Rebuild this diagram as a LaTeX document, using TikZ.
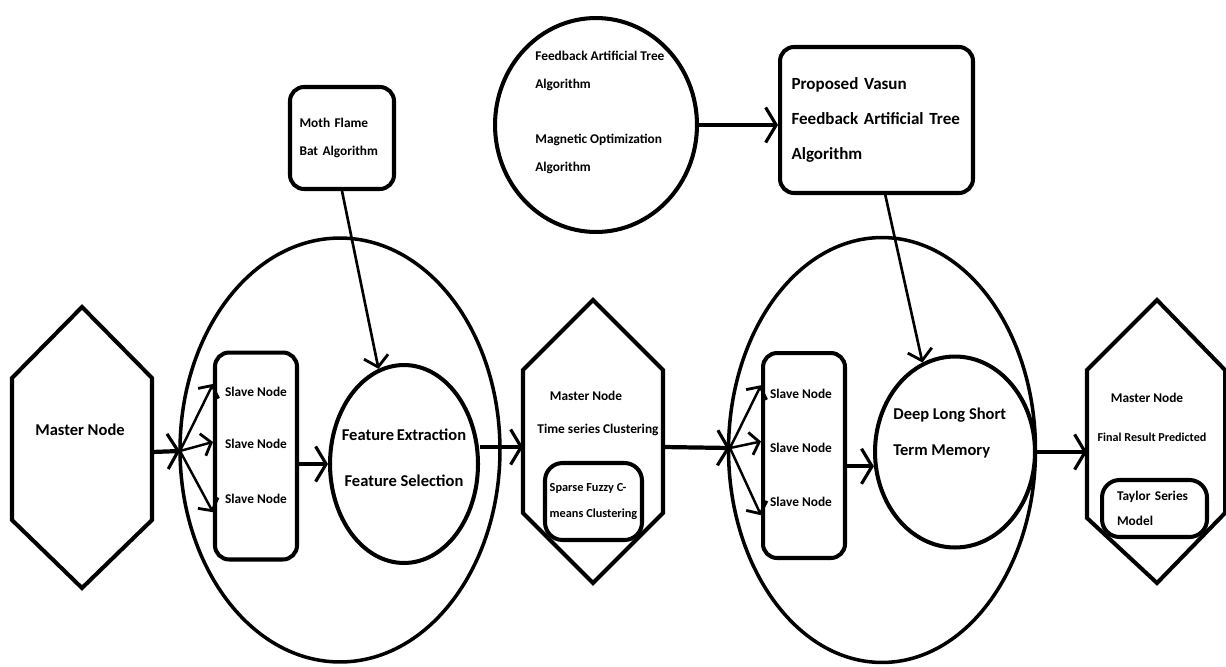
\documentclass[tikz,border=0pt]{standalone}
\usepackage{fontspec}
\setmainfont{Carlito}
\usetikzlibrary{shapes.geometric, arrows.meta}

\tikzset{
  hexline/.style={line width=2.3pt, line join=miter},
  zone/.style={draw, ellipse, line width=2pt, inner sep=0pt},
  rbox/.style={draw, rounded corners=8pt, line width=2.3pt, inner sep=0pt, align=left},
  lbl/.style={inner sep=0pt, align=left},
  txtbig/.style={font=\bfseries\fontsize{9.4pt}{26pt}\selectfont},
  txtmid/.style={font=\bfseries\fontsize{9.7pt}{19.8pt}\selectfont},
  txtsmall/.style={font=\bfseries\fontsize{7.6pt}{15.5pt}\selectfont},
  flow/.style={line width=2.4pt, -{Straight Barb[length=6pt,width=20pt,line width=1.8pt]}},
  fanarrow/.style={line width=1.4pt, -{Straight Barb[length=5pt,width=13pt,line width=1.6pt]}},
  feed/.style={line width=1.5pt, -{Straight Barb[length=6pt,width=14pt,line width=1.6pt]}},
}

\begin{document}
\begin{tikzpicture}[x=0.02cm, y=-0.02cm]
    \useasboundingbox (0,0) rectangle (1226,666);
    \fill[white] (0,0) rectangle (1226,666);

    % large zones
    \node[zone, minimum width=6.4cm, minimum height=8.48cm] (zoneA) at (340,450) {};
    \node[zone, minimum width=6.14cm, minimum height=8.5cm] (zoneB) at (882,450) {};

    % master node 1
    \draw[hexline] (82,307) -- (152,378) -- (152,520) -- (82,588) -- (12,520) -- (12,378) -- cycle;
    \node[lbl, txtbig] (m1) at (80,430) {Master Node};
    \coordinate (m1e) at (152,452);
    \coordinate (fanA) at (180,451);

    % slave nodes 1
    \node[rbox, minimum width=1.64cm, minimum height=4.14cm] (sl1) at (256,456) {};
    \node[lbl, txtsmall] (s1a) at (256,392) {Slave Node};
    \node[lbl, txtsmall] (s1b) at (256,444) {Slave Node};
    \node[lbl, txtsmall] (s1c) at (256,499) {Slave Node};

    % feature extraction / selection
    \node[zone, line width=2.3pt, minimum width=2.96cm, minimum height=3.96cm] (fe) at (404,464) {};
    \node[lbl, txtbig, align=center] (fetxt) at (404,458) {Feature\hspace{1.5pt}Extraction\\Feature Selection};

    % moth flame bat
    \node[rbox, minimum width=2.08cm, minimum height=2.04cm, text width=1.7cm, txtsmall] (moth) at (342,138) {Moth Flame\\Bat Algorithm};

    % master node 2
    \draw[hexline] (593,300) -- (663,370) -- (663,513) -- (593,583) -- (523,513) -- (523,370) -- cycle;
    \node[lbl, txtsmall] (m2) at (586,396) {Master Node};
    \node[lbl, txtsmall] (m2t) at (598,430) {Time series Clustering};
    \node[rbox, rounded corners=10pt, minimum width=1.94cm, minimum height=1.54cm, font=\bfseries\fontsize{7pt}{14.5pt}\selectfont] (sfcm) at (593.5,501.5) {Sparse Fuzzy C-\\means Clustering};
    \coordinate (m2w) at (523,447);
    \coordinate (m2e) at (663,447);
    \coordinate (fanB) at (730,448);

    % slave nodes 2
    \node[rbox, minimum width=1.64cm, minimum height=4.1cm] (sl2) at (804,455.5) {};
    \node[lbl, txtsmall] (s2a) at (801,394) {Slave Node};
    \node[lbl, txtsmall] (s2b) at (801,448) {Slave Node};
    \node[lbl, txtsmall] (s2c) at (801,502) {Slave Node};

    % deep lstm
    \node[zone, line width=2.3pt, minimum width=3.2cm, minimum height=3.82cm] (lstm) at (955,452) {};
    \node[lbl, anchor=west, font=\bfseries\fontsize{9.4pt}{20.4pt}\selectfont] (lstmtxt) at (893,433) {Deep Long Short\\Term Memory};

    % master node 3
    \draw[hexline] (1157,300) -- (1225,370) -- (1225,513) -- (1157,583) -- (1087,518) -- (1087,370) -- cycle;
    \node[lbl, txtsmall] (m3) at (1147,398) {Master Node};
    \node[lbl, font=\bfseries\fontsize{6.9pt}{9pt}\selectfont] (m3t) at (1152,437) {Final Result Predicted};
    \node[rbox, rounded corners=10pt, minimum width=2.1cm, minimum height=1.14cm, text width=1.5cm, font=\bfseries\fontsize{7.6pt}{14pt}\selectfont] (taylor) at (1154.5,508.5) {Taylor Series\\Model};
    \coordinate (m3w) at (1087,448);

    % feedback artificial tree + magnetic optimization
    \node[zone, line width=2.3pt, minimum width=4.04cm, minimum height=4.28cm] (fat) at (596,125) {};
    \node[lbl, txtsmall, anchor=west] (fat1) at (535,71) {Feedback Artificial Tree\\Algorithm};
    \node[lbl, txtsmall, anchor=west] (fat2) at (535,154) {Magnetic Optimization\\Algorithm};

    % proposed algorithm
    \node[rbox, minimum width=3.86cm, minimum height=2.92cm, text width=3.4cm, txtmid] (prop) at (876.5,120) {Proposed Vasun\\Feedback Artificial Tree\\Algorithm};

    % connectors
    \draw[flow] (m1e) -- (fanA);
    \foreach \dy in {41pt, 8pt, -32pt}
        \draw[fanarrow] (fanA) -- ([yshift=\dy]sl1.west);
    \draw[flow] (sl1.east |- fe.west) -- (fe.west);
    \draw[feed] (moth.south) -- (fe.105);
    \draw[flow] (fe.east |- m2w) -- (m2w);
    \draw[flow] (m2e) -- (fanB);
    \foreach \dy in {40pt, 8pt, -34pt}
        \draw[fanarrow] (fanB) -- ([yshift=\dy]sl2.west);
    \draw[flow] (sl2.east |- lstm.190) -- (lstm.190);
    \draw[flow] (lstm.east) -- (lstm.east -| m3w);
    \draw[flow] (fat.east) -- (fat.east -| prop.west);
    \draw[feed] ([xshift=5pt]prop.south) -- (lstm.110);
\end{tikzpicture}
\end{document}
